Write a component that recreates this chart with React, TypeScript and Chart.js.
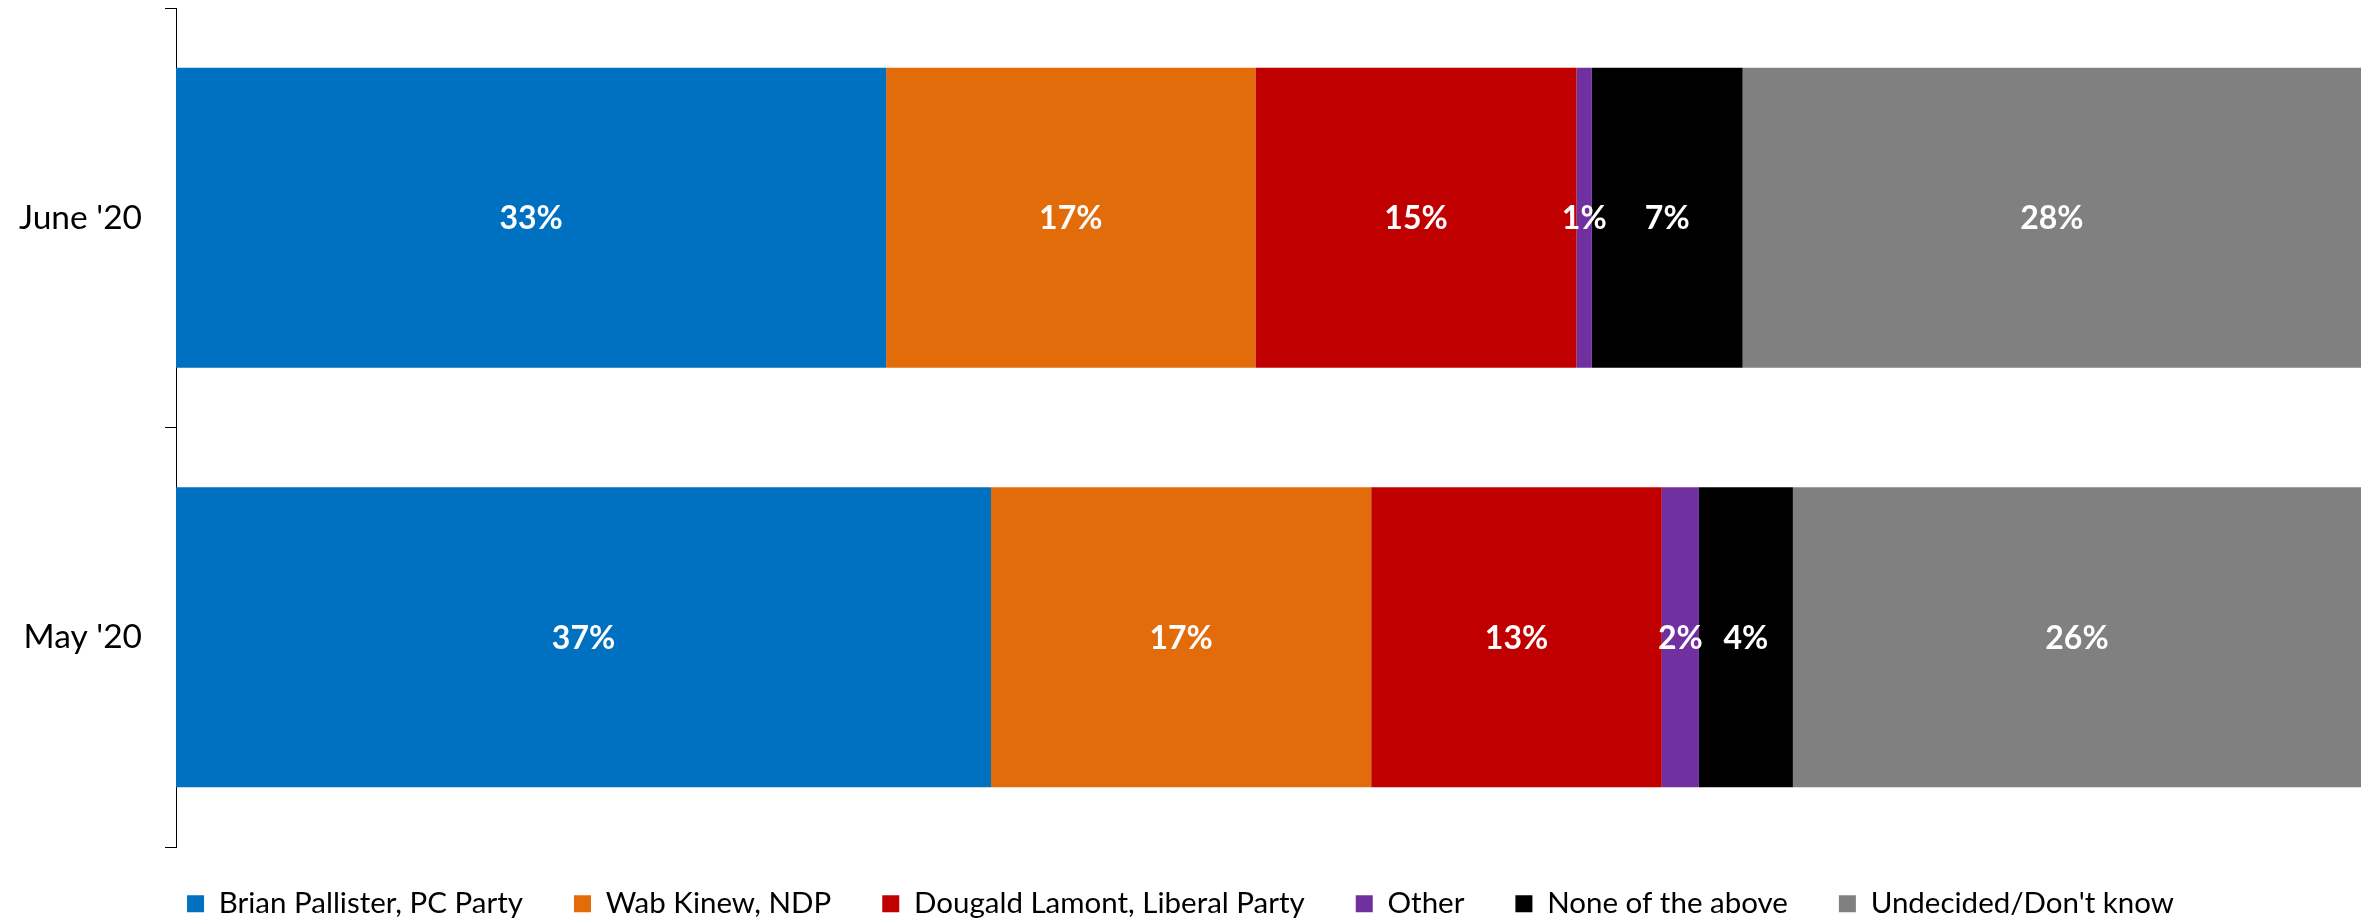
import React, { useEffect, useRef } from "react";
import { Chart, registerables } from "chart.js";

Chart.register(...registerables);

// ---- data ----
const categories = ["June '20", "May '20"];
const seriesNames = [
  "Brian Pallister, PC Party",
  "Wab Kinew, NDP",
  "Dougald Lamont, Liberal Party",
  "Other",
  "None of the above",
  "Undecided/Don't know",
];
const pallister = [32.5, 37.3];
const kinew = [16.9, 17.4];
const lamont = [14.7, 13.3];
const other = [0.7, 1.7];
const noneOfAbove = [6.9, 4.3];
const undecided = [28.3, 26.0];

const seriesValues = [pallister, kinew, lamont, other, noneOfAbove, undecided];
const seriesColors = ["#0070C0", "#E36C0A", "#C00000", "#7030A0", "#000000", "#808080"];

const FONT = "Lato, 'Open Sans', sans-serif";
const LEGEND_SHIFT = 9;

const barLabels = {
  id: "barLabels",
  afterDatasetsDraw(chart: any) {
    const ctx = chart.ctx;
    ctx.save();
    ctx.font = `bold 32px ${FONT}`;
    ctx.fillStyle = "#FFFFFF";
    ctx.textAlign = "center";
    ctx.textBaseline = "middle";
    chart.data.datasets.forEach((ds: any, i: number) => {
      const meta = chart.getDatasetMeta(i);
      meta.data.forEach((el: any, j: number) => {
        const v = ds.data[j] as number;
        const p = el.getCenterPoint();
        ctx.fillText(`${Math.round(v)}%`, p.x, p.y + 1);
      });
    });
    ctx.restore();
  },
};

// lets the legend sit slightly closer to the plot than its row padding would allow
const legendNudge = {
  id: "legendNudge",
  afterLayout(chart: any) {
    const lg = chart.legend;
    if (lg) {
      lg.top -= LEGEND_SHIFT;
      lg.bottom -= LEGEND_SHIFT;
    }
  },
};

export default function App() {
  const ref = useRef<HTMLCanvasElement | null>(null);

  useEffect(() => {
    if (!ref.current) return;
    const chart = new Chart(ref.current, {
      type: "bar",
      data: {
        labels: categories,
        datasets: seriesNames.map((name, i) => ({
          label: name,
          data: seriesValues[i],
          backgroundColor: seriesColors[i],
          borderWidth: 0,
          categoryPercentage: 1,
          barPercentage: 0.715,
        })),
      },
      options: {
        indexAxis: "y",
        animation: false,
        responsive: false,
        layout: { padding: { top: 8, right: 13, bottom: -13.5, left: 0 } },
        scales: {
          x: { stacked: true, min: 0, max: 100, display: false },
          y: {
            stacked: true,
            grid: { drawOnChartArea: false, tickLength: 11, color: "#000000", lineWidth: 1 },
            border: { display: true, color: "#000000", width: 1 },
            ticks: { color: "#000000", font: { family: FONT, size: 33.5 }, padding: 23 },
            afterFit: (s: any) => {
              s.width = 176;
              s.paddingTop = 0;
              s.paddingBottom = 0;
            },
          },
        },
        plugins: {
          legend: {
            position: "bottom",
            labels: {
              boxWidth: 17,
              boxHeight: 17,
              padding: 51,
              color: "#000000",
              font: { family: FONT, size: 29.5 },
            },
          },
          tooltip: { enabled: false },
        },
      },
      plugins: [barLabels, legendNudge],
    } as any);
    return () => chart.destroy();
  }, []);

  return (
    <div style={{ position: "absolute", left: 0, top: 0, width: 2374, height: 924, background: "#fff" }}>
      <canvas ref={ref} width={2374} height={924} style={{ display: "block" }} />
    </div>
  );
}
